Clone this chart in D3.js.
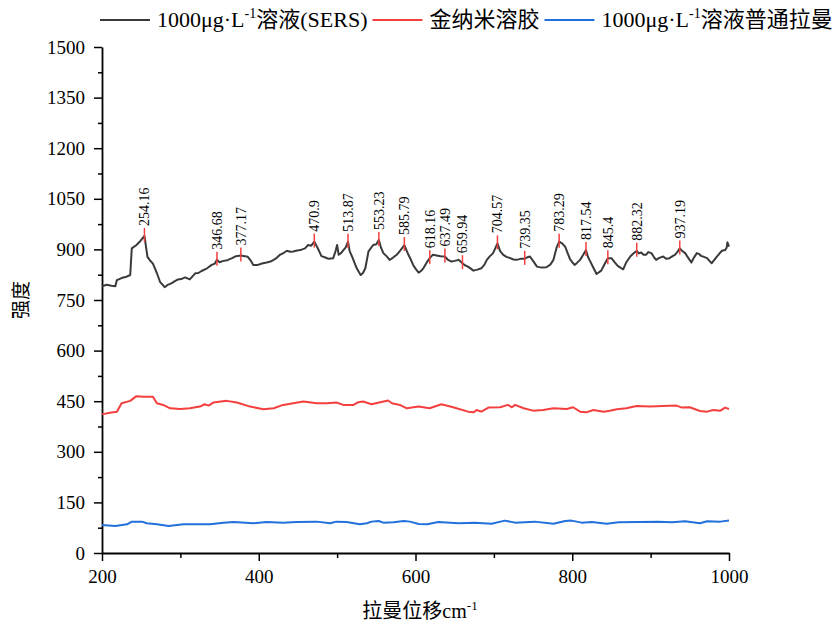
<!DOCTYPE html>
<html>
<head>
<meta charset="utf-8">
<script src="https://cdn.jsdelivr.net/npm/d3@7"></script>
<style>
  html, body { margin: 0; padding: 0; background: #fff; }
  svg { display: block; }
  text { font-family: "Liberation Serif", "Times New Roman", "Noto Sans CJK SC", serif; fill: #000; }
</style>
</head>
<body>
<svg id="chart" width="839" height="626"></svg>
<script>
// Raman shift (cm-1) / intensity pairs for each spectrum
const sersSpectrum = [
  [200,791],[206,795],[212,792],[217,791],[219,809],[225,815],[230,818],[236,824],[238,903],[244,913],[249,925],[254.16,940],
  [258,878],[261,868],[265,858],[270,830],[274,804],[280,788],[284,795],[289,800],[293,806],[297,811],[301,812],[306,817],
  [312,811],[319,829],[323,830],[327,836],[334,844],[340,854],[344,858],[346.68,869],[350,862],[355,866],[360,868],[366,874],
  [371,880],[377.17,882],[382,880],[386,878],[390,866],[393,854],[399,854],[404,858],[410,861],[415,864],[419,869],[423,875],
  [427,884],[432,890],[436,896],[440,893],[444,894],[449,897],[453,898],[459,903],[463,913],[467,911],[470.9,923],[475,905],
  [480,880],[485,876],[489,872],[495,874],[498,895],[500,913],[502,884],[505,889],[508,898],[511,906],[513.87,923],[516,895],
  [519,879],[525,844],[530,824],[533,830],[536,844],[540,894],[546,913],[550,915],[553.23,928],[556,905],[559,889],[563,880],
  [567,869],[571,875],[576,884],[581,898],[585.79,913],[588,900],[591,884],[594,870],[597,854],[600,843],[604,831],[607,836],
  [610,844],[614,860],[618.16,874],[622,884],[627,882],[632,880],[637.49,879],[641,870],[646,864],[650,866],[655,869],[659.94,859],
  [663,853],[667,849],[674,837],[679,840],[684,844],[688,855],[691,869],[695,880],[699,889],[704.57,918],[708,895],[712,884],
  [716,878],[721,874],[725,870],[729,869],[734,872],[739.35,872],[742,876],[746,879],[750,866],[755,849],[761,846],[767,847],
  [772,855],[776,869],[780,905],[783.29,923],[787,918],[791,908],[794,890],[797,872],[800,862],[803,854],[806,860],[810,869],
  [814,884],[817.54,898],[820,878],[822,869],[826,850],[831,827],[837,837],[841,855],[845.4,874],[850,874],[854,862],[858,851],
  [862,845],[865,841],[869,862],[874,879],[878,888],[882.32,896],[885,888],[888,891],[891,884],[894,884],[897,892],[901,889],
  [904,878],[907,869],[911,875],[916,879],[920,872],[924,874],[928,880],[931,884],[934,892],[937.19,903],[940,896],[944,889],
  [948,875],[952,861],[955,875],[959,889],[962,886],[965,880],[968,878],[972,874],[975,866],[978,859],[981,868],[984,877],
  [988,888],[991,896],[995,898],[997,905],[998,921],[1000,908]
];

const goldColloid = [
  [200,411],[210,416],[219,419],[225,444],[236,451],[244,465],[253,463],[265,463],[270,444],[278,439],[287,429],[300,427],
  [312,429],[325,434],[331,441],[336,437],[342,446],[359,451],[372,446],[389,434],[406,426],[419,429],[431,439],[457,449],
  [474,444],[487,444],[499,446],[508,439],[521,439],[527,447],[533,449],[544,441],[555,447],[565,452],[570,444],[580,439],
  [589,429],[604,434],[618,429],[633,441],[648,432],[667,419],[674,417],[678,424],[684,419],[693,431],[708,432],[718,439],
  [723,432],[727,439],[738,429],[750,422],[763,424],[776,429],[793,427],[801,432],[810,419],[818,417],[827,424],[840,419],
  [848,422],[857,426],[869,429],[882,436],[899,434],[916,436],[933,437],[940,431],[950,432],[963,421],[972,419],[980,424],
  [989,422],[995,431],[1000,427]
];

const normalRaman = [
  [200,83],[217,80],[232,85],[238,93],[251,93],[257,88],[270,85],[285,80],[304,85],[325,85],[338,85],[355,90],[368,92],
  [393,88],[410,92],[431,90],[448,92],[474,93],[491,88],[499,93],[512,92],[529,85],[538,88],[544,93],[553,95],[559,90],
  [572,91],[585,95],[593,93],[604,86],[615,85],[629,92],[655,88],[676,90],[697,87],[714,96],[727,90],[752,93],[776,87],
  [791,95],[799,96],[812,90],[825,92],[844,87],[859,91],[884,92],[910,93],[927,91],[944,94],[963,88],[972,94],[989,93],[1000,96]
];

// Labelled SERS peaks (cm-1)
const peakShifts = [254.16, 346.68, 377.17, 470.9, 513.87, 553.23, 585.79, 618.16, 637.49, 659.94,
                    704.57, 739.35, 783.29, 817.54, 845.4, 882.32, 937.19];

const xTicks = [200, 400, 600, 800, 1000];
const xMinorTicks = [300, 500, 700, 900];
const yTicks = d3.range(0, 1501, 150);
const yMinorTicks = d3.range(75, 1500, 150);

const series = [
  { name: "1000μg·L", sup: "-1", tail: "溶液(SERS)", data: sersSpectrum, color: "#3a3a3a" },
  { name: "金纳米溶胶", sup: "", tail: "", data: goldColloid, color: "#f43f3f" },
  { name: "1000μg·L", sup: "-1", tail: "溶液普通拉曼", data: normalRaman, color: "#2170dc" }
];

const svg = d3.select("#chart");
const x = d3.scaleLinear().domain([200, 1000]).range([102, 729]);
const y = d3.scaleLinear().domain([0, 1500]).range([553, 47]);

// Axes
svg.append("g").attr("transform", `translate(0,${y(0)})`)
  .call(d3.axisBottom(x).tickValues(xTicks).tickSize(8).tickSizeOuter(0).tickPadding(9).tickFormat(d3.format("d")));
svg.append("g").attr("transform", `translate(0,${y(0)})`)
  .call(d3.axisBottom(x).tickValues(xMinorTicks).tickSize(5).tickFormat(""))
  .call(g => g.select(".domain").remove());
svg.append("g").attr("transform", `translate(${x(200)},0)`)
  .call(d3.axisLeft(y).tickValues(yTicks).tickSize(8).tickSizeOuter(0).tickPadding(9).tickFormat(d3.format("d")));
svg.append("g").attr("transform", `translate(${x(200)},0)`)
  .call(d3.axisLeft(y).tickValues(yMinorTicks).tickSize(4).tickFormat(""))
  .call(g => g.select(".domain").remove());

svg.selectAll(".domain").attr("stroke", "#000").attr("stroke-width", 1.8);
svg.selectAll(".tick line").attr("stroke", "#000").attr("stroke-width", 1.5);
svg.selectAll(".tick text")
  .style("font-family", '"Liberation Serif", "Times New Roman", serif')
  .style("font-size", "19px").attr("fill", "#000");

// Axis titles
svg.append("text")
  .attr("transform", `translate(28,${(y(0) + y(1500)) / 2}) rotate(-90)`)
  .attr("text-anchor", "middle").style("font-size", "19px").text("强度");

const xt = svg.append("text").attr("x", 420).attr("y", 618).attr("text-anchor", "middle").style("font-size", "20px");
xt.append("tspan").text("拉曼位移cm");
xt.append("tspan").attr("dy", -8).style("font-size", "13px").text("-1");

// Spectra
const line = d3.line().x(d => x(d[0])).y(d => y(d[1]));
svg.append("g").selectAll("path").data(series.slice().reverse()).join("path")
  .attr("d", d => line(d.data))
  .attr("fill", "none")
  .attr("stroke", d => d.color)
  .attr("stroke-width", 2)
  .attr("stroke-linejoin", "round");

// Peak markers and labels
const peakValue = s => {
  const hit = sersSpectrum.find(p => p[0] === s);
  return hit ? hit[1] : sersSpectrum[d3.bisector(p => p[0]).center(sersSpectrum, s)][1];
};
const pk = svg.append("g").selectAll("g").data(peakShifts).join("g")
  .attr("transform", d => `translate(${x(d)},${y(peakValue(d))})`);
pk.append("line").attr("y1", -8).attr("y2", 6).attr("stroke", "#f43f3f").attr("stroke-width", 1.5);
pk.append("text")
  .attr("transform", "translate(5,-10) rotate(-90)")
  .attr("text-anchor", "start")
  .style("font-size", "14px")
  .text(d => String(d));

// Legend
let lx = 100;
const ly = 20;
series.forEach(s => {
  svg.append("line").attr("x1", lx).attr("x2", lx + 50).attr("y1", ly).attr("y2", ly)
    .attr("stroke", s.color).attr("stroke-width", 2);
  const t = svg.append("text").attr("x", lx + 57).attr("y", ly + 7).style("font-size", "22px");
  t.append("tspan").text(s.name);
  if (s.sup) {
    t.append("tspan").attr("dy", -9).style("font-size", "14px").text(s.sup);
    t.append("tspan").attr("dy", 9).text(s.tail);
  }
  lx += 57 + t.node().getComputedTextLength() + 5;
});
</script>
</body>
</html>
